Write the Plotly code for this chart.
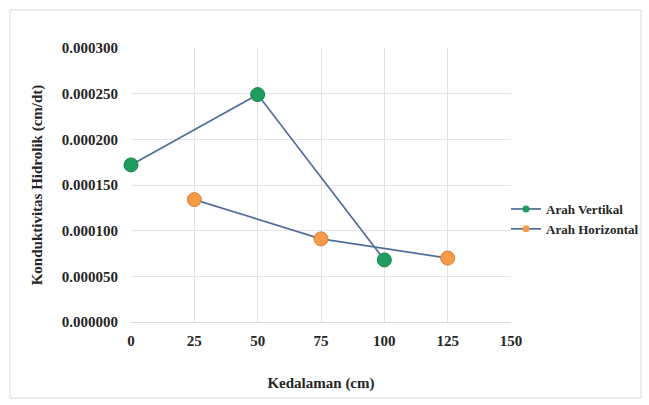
import plotly.graph_objects as go

depth_vertikal = [0, 50, 100]
k_vertikal = [0.000172, 0.000249, 0.000068]
depth_horizontal = [25, 75, 125]
k_horizontal = [0.000134, 0.000091, 0.000070]
x_ticks = [0, 25, 50, 75, 100, 125, 150]
y_ticks = [0.0, 0.00005, 0.0001, 0.00015, 0.0002, 0.00025, 0.0003]

font_family = "Liberation Serif"
line_color = "#506E9C"
green = "#1E9E5E"
orange = "#F5994A"
text_color = "#262626"

fig = go.Figure()
fig.add_trace(go.Scatter(
    x=depth_vertikal, y=k_vertikal, mode="lines+markers", name="Arah Vertikal",
    line=dict(color=line_color, width=1.7), cliponaxis=False, showlegend=False,
    marker=dict(color=green, size=14, line=dict(color="#17804B", width=1)),
))
fig.add_trace(go.Scatter(
    x=depth_horizontal, y=k_horizontal, mode="lines+markers", name="Arah Horizontal",
    line=dict(color=line_color, width=1.7), cliponaxis=False, showlegend=False,
    marker=dict(color=orange, size=14, line=dict(color="#D97F30", width=1)),
))
# legend entries with smaller symbols
fig.add_trace(go.Scatter(
    x=[None], y=[None], mode="lines+markers", name="<b>Arah Vertikal</b>",
    line=dict(color=line_color, width=1.7), marker=dict(color=green, size=7),
))
fig.add_trace(go.Scatter(
    x=[None], y=[None], mode="lines+markers", name="<b>Arah Horizontal</b>",
    line=dict(color=line_color, width=1.7), marker=dict(color=orange, size=7),
))

tick_font = dict(family=font_family, size=15, color=text_color)

fig.update_layout(
    width=649, height=405,
    margin=dict(l=131, r=138, t=48, b=83, autoexpand=False),
    paper_bgcolor="white", plot_bgcolor="white",
    font=dict(family=font_family, size=15, color=text_color),
    showlegend=True,
    legend=dict(x=(506 - 131) / 380, y=(322 - 219) / 274, xanchor="left", yanchor="middle",
                font=dict(family=font_family, size=13, color=text_color),
                bgcolor="rgba(0,0,0,0)", tracegroupgap=0, itemwidth=30),
    xaxis=dict(
        range=[0, 150], tickvals=x_ticks, ticktext=[f"<b>{v}</b>" for v in x_ticks],
        tickfont=tick_font, ticklabelstandoff=5,
        showgrid=True, gridcolor="#E3E3E3", gridwidth=1, zeroline=False,
        showline=True, linecolor="#D9D9D9", ticks="", ticklen=0,
        title=dict(text="<b>Kedalaman (cm)</b>", font=dict(size=15, family=font_family), standoff=29),
    ),
    yaxis=dict(
        range=[0, 0.0003], tickvals=y_ticks, ticktext=[f"<b>{v:.6f}</b>" for v in y_ticks],
        tickfont=tick_font, ticklabelstandoff=12,
        showgrid=True, gridcolor="#E3E3E3", gridwidth=1, zeroline=False,
        showline=False, ticks="", ticklen=0,
        title=dict(text="<b>Konduktivitas Hidrolik (cm/dt)</b>", font=dict(size=15, family=font_family), standoff=15),
    ),
    shapes=[dict(type="rect", xref="paper", yref="paper",
                 x0=(10 - 131) / 380, x1=(641 - 131) / 380,
                 y0=(322 - 398) / 274, y1=(322 - 10) / 274,
                 line=dict(color="#D9D9D9", width=1), fillcolor="rgba(0,0,0,0)", layer="below")],
)

fig.write_html("out.html")
